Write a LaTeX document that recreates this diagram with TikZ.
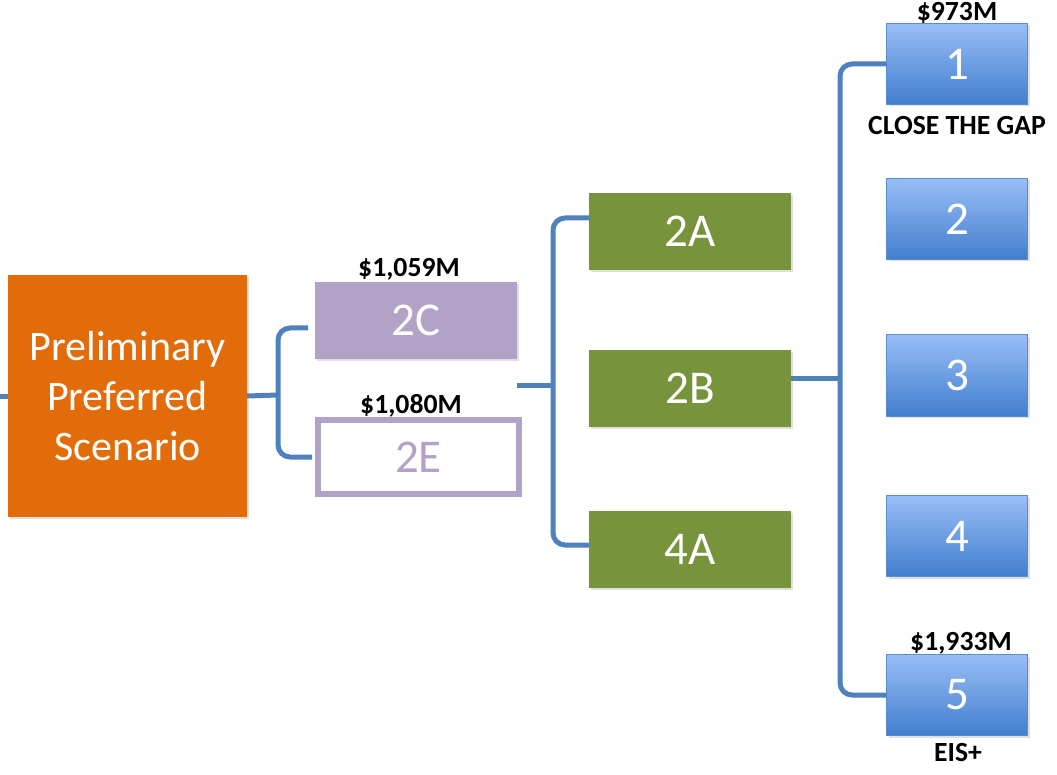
\documentclass[tikz,border=0pt]{standalone}
\usepackage{fontspec}
\setmainfont{Carlito}
\usepackage{tikz}
\usetikzlibrary{positioning,shadows,calc}
\definecolor{ppsorange}{RGB}{227,108,10}
\definecolor{altpurple}{RGB}{179,162,199}
\definecolor{altgreen}{RGB}{119,147,60}
\definecolor{linkblue}{RGB}{79,129,189}
\definecolor{optlight}{RGB}{152,190,246}
\definecolor{optdark}{RGB}{66,126,206}
\definecolor{optedge}{RGB}{92,140,208}
\newcommand{\boxtext}{\fontsize{47}{54}\selectfont}
\newcommand{\ppstext}{\fontsize{42}{50}\selectfont}
\newcommand{\costtext}{\fontsize{27.7}{32}\selectfont\bfseries}

\begin{document}
\begin{tikzpicture}[x=1pt, y=-1pt,
    every node/.style={inner sep=0pt, outer sep=0pt},
    shade/.style={drop shadow={opacity=0.25, shadow xshift=2pt, shadow yshift=-2pt}},
    ppsbox/.style={shade, fill=ppsorange, text=white, minimum width=239pt, minimum height=242pt, align=center, font=\ppstext},
    altbox/.style={shade, minimum width=202pt, minimum height=77pt, text=white, font=\boxtext},
    optbox/.style={shade, draw=optedge, line width=1pt, top color=optlight, bottom color=optdark, minimum width=141pt, minimum height=81pt, text=white, font=\boxtext},
    cost/.style={anchor=base, font=\costtext},
    link/.style={draw=linkblue, line width=5pt, rounded corners=12pt}]
  \useasboundingbox (0,0) rectangle (1057,775);
  % The scenario:
  \node[ppsbox] (pps) at (127.5,396) {Preliminary\\Preferred\\Scenario};
  \coordinate (stub) at (0,396);
  % Alternatives:
  \node[altbox, fill=altpurple] (twoC) at (416,320.5) {2C};
  \node[shade, fill=white, draw=altpurple, line width=6pt, minimum width=201pt, minimum height=74pt, text=altpurple, font=\boxtext] (twoE) at (418.5,457) {2E};
  \node[altbox, fill=altgreen] (twoA) at (690,231.5) {2A};
  \node[altbox, fill=altgreen] (twoB) at (690,388.5) {2B};
  \node[altbox, fill=altgreen] (fourA) at (690,549.5) {4A};
  \coordinate (mid) at (517,385);
  % Options:
  \node[optbox] (one) at (957,64) {1};
  \node[optbox] (two) at (957,219) {2};
  \node[optbox] (three) at (957,375.5) {3};
  \node[optbox] (four) at (957,536) {4};
  \node[optbox] (five) at (957,695) {5};
  \coordinate (join) at (840,378);
  % Costs and names:
  \node[cost] (costC) at (409,277) {\$1,059M};
  \node[cost] (costE) at (411,413) {\$1,080M};
  \node[cost] (costone) at (957,21) {\$973M};
  \node[cost] (nameone) at (957,135) {CLOSE THE GAP};
  \node[cost] (costfive) at (961,650) {\$1,933M};
  \node[cost] (namefive) at (958,761) {EIS+};
  % Braces:
  \draw[link, rounded corners=0pt] (stub) -- (pps.west);
  \draw[link] ([xshift=-7pt, yshift=-7.5pt]twoC.west) -| (278,395) |- ([xshift=-6pt]twoE.west);
  \draw[link, rounded corners=0pt] (pps.east) -- (278,395);
  \draw[link] ([yshift=13.5pt]twoA.west) -| (553,385) |- ([yshift=4.5pt]fourA.west);
  \draw[link, rounded corners=0pt] (mid) -- (553,385);
  \draw[link] (one.west) -| (join) |- (five.west);
  \draw[link, rounded corners=0pt] (twoB.east |- join) -- (join);
\end{tikzpicture}
\end{document}
